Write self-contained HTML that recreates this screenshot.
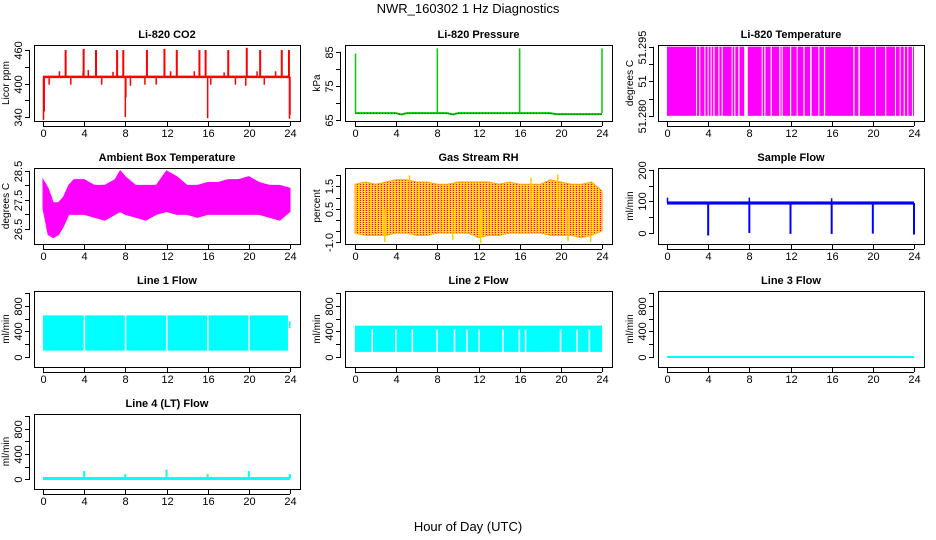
<!DOCTYPE html>
<html><head><meta charset="utf-8"><style>
html,body{margin:0;padding:0;background:#fff}
svg{display:block;font-family:"Liberation Sans",sans-serif}
</style></head><body>
<svg id="c" width="936" height="540" viewBox="0 0 936 540">
<defs><pattern id="rhpat" width="3" height="2" patternUnits="userSpaceOnUse"><rect width="3" height="2" fill="#ffcc00"/><rect width="1" height="1" fill="#ff0000"/><rect x="1" y="1" width="1" height="1" fill="#ffff00"/></pattern></defs>
<text x="468" y="13" text-anchor="middle" font-size="13">NWR_160302  1 Hz Diagnostics</text>
<text x="468" y="531" text-anchor="middle" font-size="13">Hour of Day (UTC)</text>
</svg>
<script>
// ---- data ----
const xTicks=[0,4,8,12,16,20,24];
const co2Base=412;
const co2UpHours=[2.2,3.95,5.15,7.2,7.8,10.1,11.8,13.0,15.2,15.8,18.0,19.8,21.1,23.2,23.9];
const co2UpVals=[460,462,460,460,460,460,462,460,460,460,460,464,460,460,460];
const co2SmallHours=[0.6,1.6,2.7,3.9,4.4,5.7,6.8,8.5,9.9,11.0,12.4,14.7,16.3,17.6,18.7,19.7,20.8,21.5,22.6];
const co2SmallVals=[398,422,398,422,424,398,421,396,398,398,422,422,398,420,398,396,422,398,422];
const co2DownHours=[0.05,0.12,8.0,8.05,16.0,23.95,24.0];
const co2DownVals=[335,350,340,375,338,337,344];
const presBaseHours=[0,4,4.5,5,9,9.5,10,19,19.5,24];
const presBaseVals=[67,67,66.6,67,67,66.6,67,67,66.7,66.7];
const presSpikeHours=[0.05,8.0,16.0,24.0];
const presSpikeVals=[84.5,86,86,86];
const tempGapHours=[2.82,3.14,3.63,3.95,4.24,4.5,4.99,5.31,6.28,6.54,6.93,7.5,9.2,9.46,10.07,10.9,11.14,11.95,12.6,13.25,13.9,14.7,15.25,18.1,18.6,20.2,21.2,22.15,22.6,23.0,23.35,23.8];
const tempGapWidths=[0.1,0.1,0.1,0.1,0.1,0.12,0.1,0.1,0.1,0.1,0.12,0.35,0.1,0.1,0.12,0.12,0.1,0.12,0.1,0.12,0.15,0.1,0.12,0.12,0.15,0.1,0.1,0.1,0.1,0.1,0.1,0.1];
const ambHours=[0,0.5,1,1.5,2,2.5,3,4,5,6,7,7.5,8,9,10,11,12,13,14,15,16,17,18,19,20,21,22,23,24];
const ambMin=[27.2,26.3,26.2,26.3,26.6,27.0,27.0,27.0,26.9,26.8,27.0,27.1,27.0,26.9,26.8,27.0,27.1,27.0,27.0,26.9,27.0,27.0,27.0,27.0,27.0,27.0,26.9,26.8,27.1];
const ambMax=[28.2,27.9,27.4,27.4,27.6,28.0,28.2,28.2,28.0,28.0,28.2,28.5,28.3,28.0,28.0,28.0,28.5,28.3,28.0,28.0,28.1,28.1,28.2,28.2,28.3,28.1,28.0,28.0,27.9];
const rhHours=[0,1,2,3,4,5,6,7,8,9,10,11,12,13,14,15,16,17,18,19,20,21,22,23,24];
const rhMin=[-0.6,-0.7,-0.7,-0.7,-0.6,-0.6,-0.7,-0.7,-0.6,-0.6,-0.6,-0.6,-0.8,-0.7,-0.7,-0.6,-0.6,-0.6,-0.6,-0.7,-0.7,-0.7,-0.8,-0.7,-0.5];
const rhMax=[1.6,1.7,1.6,1.7,1.8,1.8,1.7,1.7,1.6,1.6,1.7,1.7,1.7,1.7,1.6,1.7,1.6,1.6,1.6,1.8,1.7,1.6,1.6,1.7,1.3];
const rhSpikeHours=[2.9,5.3,9.5,12.2,17.1,19.7,20.7,22.9];
const rhSpikeVals=[-1.0,2.0,-0.9,-1.05,1.9,2.05,-0.95,-1.0];
const sfBase=95;
const sfDipHours=[4,8,12,16,20,24];
const sfDipVals=[-8,0,-3,-3,-2,-5];
const sfSpikeHours=[0.05,8.0,16.0];
const sfSpikeVals=[112,112,110];
const l1Min=100,l1Max=650;
const l1GapHours=[3.95,7.95,11.95,15.95,19.95];
const l2Min=80,l2Max=490;
const l2GapHours=[1.6,3.9,5.5,7.9,9.6,10.8,12.0,14.3,15.9,16.5,19.9,21.5,22.7];
const l3Val=0;
const l4Base=10;
const l4SpikeHours=[4,8,12,16,20,24];
const l4SpikeVals=[130,80,150,80,130,80];

// ---- layout ----
const svg=document.getElementById('c');
const NS='http://www.w3.org/2000/svg';
function el(tag,attrs,parent){const e=document.createElementNS(NS,tag);for(const k in attrs)e.setAttribute(k,attrs[k]);(parent||svg).appendChild(e);return e;}
const cols=[{bx:34,bw:266,x0:43,x1:290},{bx:345,bw:267,x0:355,x1:602},{bx:658,bw:266,x0:667,x1:914}];
const rows=[{by:45,bh:76},{by:168,bh:76},{by:291,bh:76},{by:414,bh:75}];
function panel(name,title,col,row,ylo,yhi,ticks,labels,ylab){
  const c=cols[col],r=rows[row];
  const g=el('g',{});
  
  
  const X=h=>c.x0+(c.x1-c.x0)*h/24;
  const Y=v=>r.by+r.bh-(v-ylo)/(yhi-ylo)*r.bh;
  const t=el('text',{x:c.bx+c.bw/2,y:r.by-7,'text-anchor':'middle','font-size':'11','font-weight':'bold'},g);t.textContent=title;
  
  
  const plot=el('g',{},g);
  
  
  const ax=el('g',{},g);
  el('rect',{x:c.bx+.5,y:r.by+.5,width:c.bw,height:r.bh,fill:'none',stroke:'#000','stroke-width':1},ax);
  xTicks.forEach(h=>{const x=Math.round(X(h))+.5;el('line',{x1:x,x2:x,y1:r.by+r.bh,y2:r.by+r.bh+5,stroke:'#000'},ax);
    const tt=el('text',{x:x,y:r.by+r.bh+16,'text-anchor':'middle','font-size':'11'},ax);tt.textContent=h;});
  el('line',{x1:X(0),x2:X(24),y1:r.by+r.bh+5.5,y2:r.by+r.bh+5.5,stroke:'#000'},ax);
  const yt0=Y(ticks[0]),yt1=Y(ticks[ticks.length-1]);
  el('line',{x1:c.bx-4.5,x2:c.bx-4.5,y1:yt0,y2:yt1,stroke:'#000'},ax);
  ticks.forEach((v,i)=>{const y=Math.round(Y(v))+.5;el('line',{x1:c.bx-9,x2:c.bx-4,y1:y,y2:y,stroke:'#000'},ax);
    if(labels[i]!==''){const tt=el('text',{x:0,y:0,'text-anchor':'middle','font-size':'11',transform:`translate(${c.bx-12},${y}) rotate(-90)`},ax);tt.textContent=labels[i];}});
  const yl=el('text',{x:0,y:0,'text-anchor':'middle','font-size':'10',transform:`translate(${c.bx-25},${r.by+r.bh/2}) rotate(-90)`},ax);yl.textContent=ylab;
  return {X,Y,plot};
}
function vline(p,h,v1,v2,col,w){el('line',{x1:p.X(h),x2:p.X(h),y1:p.Y(v1),y2:p.Y(v2),stroke:col,'stroke-width':w||1.5},p.plot);}
function hline(p,h1,h2,v,col,w){el('line',{x1:p.X(h1),x2:p.X(h2),y1:p.Y(v),y2:p.Y(v),stroke:col,'stroke-width':w||2},p.plot);}
function band(p,hours,mins,maxs,fill,stroke){
  let d='M'+hours.map((h,i)=>p.X(h)+','+p.Y(maxs[i])).join('L');
  for(let i=hours.length-1;i>=0;i--)d+='L'+p.X(hours[i])+','+p.Y(mins[i]);
  el('path',{d:d+'Z',fill:fill,stroke:stroke,'stroke-width':1},p.plot);
}

// CO2
let p=panel('co2','Li-820 CO2',0,0,333,469,[340,370,400,430,460],['340','','400','','460'],'Licor ppm');
co2UpHours.forEach((h,i)=>vline(p,h,co2Base,co2UpVals[i],'#f00',2));
co2SmallHours.forEach((h,i)=>vline(p,h,co2Base,co2SmallVals[i],'#f00',1.5));
co2DownHours.forEach((h,i)=>vline(p,h,co2Base,co2DownVals[i],'#f00',1.5));
hline(p,0,24,co2Base,'#f00',2.5);
// Pressure
p=panel('pressure','Li-820 Pressure',1,0,64.7,87,[65,70,75,80,85],['65','','75','','85'],'kPa');
for(let i=1;i<presBaseHours.length;i++)el('line',{x1:p.X(presBaseHours[i-1]),x2:p.X(presBaseHours[i]),y1:p.Y(presBaseVals[i-1]),y2:p.Y(presBaseVals[i]),stroke:'#0c0','stroke-width':2},p.plot);
for(let i=1;i<presBaseHours.length;i++)el('line',{x1:p.X(presBaseHours[i-1]),x2:p.X(presBaseHours[i]),y1:p.Y(presBaseVals[i-1]),y2:p.Y(presBaseVals[i]),stroke:'#000','stroke-width':.6,'stroke-dasharray':'1 2'},p.plot);
presSpikeHours.forEach((h,i)=>{vline(p,h,presBaseVals[0],presSpikeVals[i],'#0c0',1.5);});
// Temperature
p=panel('li820-temp','Li-820 Temperature',2,0,51.2785,51.3005,[51.28,51.285,51.29,51.295,51.3],['51.280','','51','','51.295'],'degrees C');
el('rect',{x:p.X(0),y:p.Y(51.3),width:p.X(24)-p.X(0),height:p.Y(51.28)-p.Y(51.3),fill:'#f0f'},p.plot);
tempGapHours.forEach((h,i)=>el('rect',{x:p.X(h),y:p.Y(51.3)-1,width:p.X(h+tempGapWidths[i])-p.X(h),height:p.Y(51.28)-p.Y(51.3)+2,fill:'#fff'},p.plot));
// Ambient
p=panel('ambient','Ambient Box Temperature',0,1,25.98,28.6,[26.5,27,27.5,28,28.5],['26.5','','27.5','','28.5'],'degrees C');
band(p,ambHours,ambMin,ambMax,'#f0f','#f0f');
// RH
p=panel('rh','Gas Stream RH',1,1,-1.09,2.33,[-1,-0.5,0,0.5,1,1.5,2],['-1.0','','','0.5','','1.5',''],'percent');
band(p,rhHours,rhMin,rhMax,'url(#rhpat)','#ffaa00');
rhSpikeHours.forEach((h,i)=>vline(p,h,0.5,rhSpikeVals[i],'#fc0',1.5));
// Sample flow
p=panel('sample-flow','Sample Flow',2,1,-35,206,[0,50,100,150,200],['0','','100','','200'],'ml/min');
el('rect',{x:p.X(0),y:p.Y(sfBase+5),width:p.X(24)-p.X(0),height:p.Y(sfBase-5)-p.Y(sfBase+5),fill:'#00f'},p.plot);
sfDipHours.forEach((h,i)=>vline(p,h,sfBase,sfDipVals[i],'#00f',2));
sfSpikeHours.forEach((h,i)=>vline(p,h,sfBase,sfSpikeVals[i],'#00f',1.5));
// Line flows
const lt=[0,200,400,600,800,1000],ll=['0','','400','','800',''];
p=panel('line1-flow','Line 1 Flow',0,2,-156,1031,lt,ll,'ml/min');
el('rect',{x:p.X(0),y:p.Y(l1Max),width:p.X(23.8)-p.X(0),height:p.Y(l1Min)-p.Y(l1Max),fill:'#0ff'},p.plot);
el('rect',{x:p.X(23.9),y:p.Y(560),width:p.X(24.05)-p.X(23.9),height:p.Y(450)-p.Y(560),fill:'#0ff'},p.plot);
l1GapHours.forEach(h=>el('rect',{x:p.X(h),y:p.Y(l1Max)-1,width:1.5,height:p.Y(l1Min)-p.Y(l1Max)+2,fill:'#fff'},p.plot));
p=panel('line2-flow','Line 2 Flow',1,2,-156,1031,lt,ll,'ml/min');
el('rect',{x:p.X(0),y:p.Y(l2Max),width:p.X(24)-p.X(0),height:p.Y(l2Min)-p.Y(l2Max),fill:'#0ff'},p.plot);
l2GapHours.forEach(h=>el('rect',{x:p.X(h),y:p.Y(430),width:1.5,height:p.Y(l2Min)-p.Y(430)+1,fill:'#fff'},p.plot));
p=panel('line3-flow','Line 3 Flow',2,2,-156,1031,lt,ll,'ml/min');
hline(p,0,24,l3Val,'#0ff',2);
p=panel('line4-flow','Line 4 (LT) Flow',0,3,-156,1031,lt,ll,'ml/min');
hline(p,0,24,l4Base,'#0ff',3);
l4SpikeHours.forEach((h,i)=>vline(p,h,l4Base,l4SpikeVals[i],'#0ff',2));
</script>
</body></html>
